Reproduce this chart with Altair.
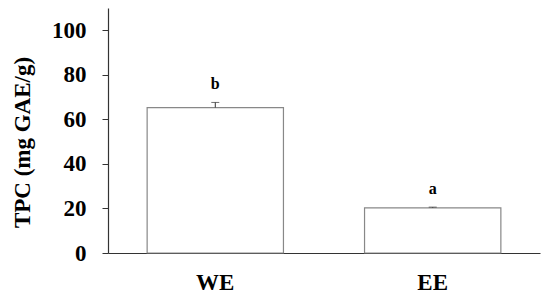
import altair as alt
import pandas as pd

groups = ["WE", "EE"]
means = [65.3, 20.3]
errors = [2.3, 0.3]
letters = ["b", "a"]

df = pd.DataFrame({"group": groups, "mean": means, "err": errors, "letter": letters})
df["hi"] = df["mean"] + df["err"]

FONT = "Liberation Serif"

x = alt.X("group:N", sort=groups, title=None,
          scale=alt.Scale(paddingInner=0.373, paddingOuter=0.18),
          axis=alt.Axis(labelAngle=0, ticks=False, labelFont=FONT, labelFontSize=23,
                        labelFontWeight="bold", labelColor="black", labelPadding=18,
                        domainColor="#333", domainWidth=1.2))
y = alt.Y("mean:Q", title="TPC (mg GAE/g)",
          scale=alt.Scale(domain=[0, 110], nice=False),
          axis=alt.Axis(values=[0, 20, 40, 60, 80, 100], grid=False, tickSize=6,
                        tickColor="#333", domainColor="#333", domainWidth=1.2,
                        labelFont=FONT, labelFontSize=23, labelFontWeight="bold",
                        labelColor="black", labelPadding=16,
                        titleFont=FONT, titleFontSize=23, titleFontWeight="bold",
                        titleColor="black", titlePadding=17, titleY=134))

bars = alt.Chart(df).mark_bar(fill="white", stroke="#888", strokeWidth=1.2).encode(x=x, y=y)
rule = alt.Chart(df).mark_rule(color="#333").encode(x=x, y="mean:Q", y2="hi:Q")
cap = alt.Chart(df).mark_tick(color="#333", size=8, thickness=1, orient="horizontal").encode(x=x, y="hi:Q")
txt = alt.Chart(df).mark_text(font=FONT, fontSize=16, fontWeight="bold", baseline="bottom",
                              dy=-10, color="black").encode(x=x, y="hi:Q", text="letter:N")

chart = (bars + rule + cap + txt).properties(
    width=432, height=245,
    autosize=alt.AutoSizeParams(type="none"),
    padding={"left": 100, "top": 0, "right": 2, "bottom": 46},
).configure_view(stroke=None)

chart.save("out.html", embed_options={"renderer": "svg", "actions": False})
